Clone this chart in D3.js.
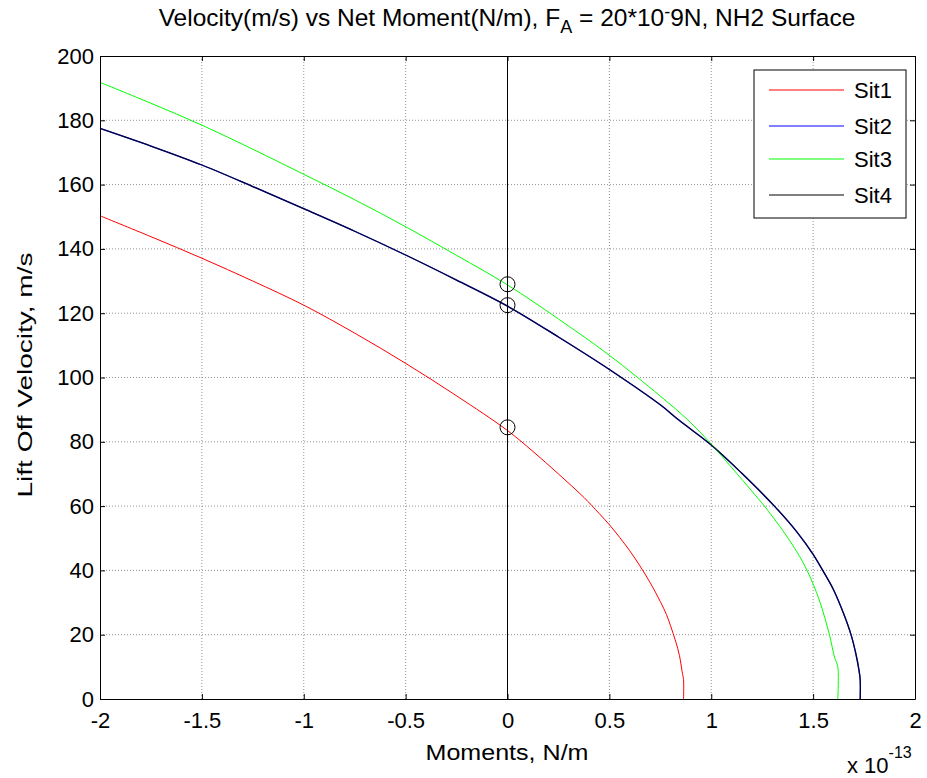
<!DOCTYPE html>
<html><head><meta charset="utf-8">
<script src="https://cdn.jsdelivr.net/npm/d3@7"></script>
<style>body{margin:0;background:#fff;} text{font-family:"Liberation Sans",Arial,sans-serif;fill:#000;}</style>
</head><body>
<svg id="chart" width="927" height="778"></svg>
<script>
// ---- data (moments in units of 1e-13 N/m, velocity m/s) ----
const xTicks = [-2, -1.5, -1, -0.5, 0, 0.5, 1, 1.5, 2];
const xTickLabels = ["-2", "-1.5", "-1", "-0.5", "0", "0.5", "1", "1.5", "2"];
const yTicks = [0, 20, 40, 60, 80, 100, 120, 140, 160, 180, 200];
const seriesNames = ["Sit1", "Sit2", "Sit3", "Sit4"];

const sit1M = [-2, -1.75, -1.5, -1.25, -1, -0.75, -0.5, -0.25, 0, 0.125, 0.25, 0.375, 0.45, 0.5, 0.55, 0.6, 0.65, 0.7, 0.75, 0.78, 0.8, 0.825, 0.844, 0.857, 0.864, 0.864];
const sit1V = [150.3, 143.8, 137.1, 130.0, 122.5, 113.8, 104.4, 94.3, 83.5, 77.0, 70.0, 62.7, 57.7, 54.2, 50.3, 46.1, 41.4, 36.2, 30.3, 26.3, 22.8, 18.0, 13.5, 8.5, 6.0, 0];

const sit2M = [-2, -1.75, -1.5, -1.25, -1, -0.75, -0.5, -0.25, 0, 0.25, 0.5, 0.75, 0.844, 1.0, 1.15, 1.31, 1.42, 1.5, 1.547, 1.6, 1.65, 1.687, 1.71, 1.725, 1.731, 1.731];
const sit2V = [177.5, 172.0, 166.1, 159.4, 152.5, 145.5, 138.1, 130.3, 122.2, 112.6, 102.5, 91.5, 86.6, 79.0, 70.2, 60.0, 52.0, 45.0, 40.0, 34.0, 26.5, 19.8, 14.0, 9.0, 6.0, 0];

const sit3M = [-2, -1.75, -1.5, -1.25, -1, -0.75, -0.5, -0.25, 0, 0.25, 0.5, 0.75, 0.885, 1.0, 1.1, 1.2, 1.261, 1.35, 1.42, 1.474, 1.53, 1.58, 1.605, 1.621, 1.621];
const sit3V = [191.8, 185.3, 178.5, 171.0, 163.2, 155.3, 146.9, 138.0, 128.8, 118.2, 106.9, 94.2, 86.8, 79.3, 72.0, 64.6, 60.0, 52.5, 45.8, 39.5, 30.8, 20.0, 13.0, 10.0, 0];

const sit4M = [-2, -1.75, -1.5, -1.25, -1, -0.75, -0.5, -0.25, 0, 0.25, 0.5, 0.75, 0.844, 1.0, 1.15, 1.31, 1.42, 1.5, 1.547, 1.6, 1.65, 1.687, 1.71, 1.725, 1.731, 1.731];
const sit4V = [177.5, 172.0, 166.1, 159.4, 152.5, 145.5, 138.1, 130.3, 122.2, 112.6, 102.5, 91.5, 86.6, 79.0, 70.2, 60.0, 52.0, 45.0, 40.0, 34.0, 26.5, 19.8, 14.0, 9.0, 6.0, 0];

const markerM = [0, 0, 0];
const markerV = [84.5, 122.5, 129.0];

// ---- layout ----
const svg = d3.select("#chart");
const L = 100, R = 915, T = 56, B = 699;
const x = d3.scaleLinear().domain([-2, 2]).range([L, R]);
const y = d3.scaleLinear().domain([0, 200]).range([B, T]);
const fs = 22;

// grid
const grid = svg.append("g");
xTicks.slice(1, -1).forEach(t => {
  grid.append("line").attr("x1", x(t)).attr("x2", x(t)).attr("y1", T).attr("y2", B)
    .attr("stroke", "#777").attr("stroke-width", 0.8).attr("stroke-dasharray", "1,2");
});
yTicks.slice(1, -1).forEach(t => {
  grid.append("line").attr("x1", L).attr("x2", R).attr("y1", y(t)).attr("y2", y(t))
    .attr("stroke", "#777").attr("stroke-width", 0.8).attr("stroke-dasharray", "1,2");
});

// axes with inward ticks
const xAxisB = d3.axisBottom(x).tickValues(xTicks).tickFormat((d, i) => xTickLabels[i]).tickSizeInner(-5).tickSizeOuter(0).tickPadding(13);
const xAxisT = d3.axisTop(x).tickValues(xTicks).tickFormat("").tickSizeInner(-5).tickSizeOuter(0);
const yAxisL = d3.axisLeft(y).tickValues(yTicks).tickSizeInner(-5).tickSizeOuter(0).tickPadding(6);
const yAxisR = d3.axisRight(y).tickValues(yTicks).tickFormat("").tickSizeInner(-5).tickSizeOuter(0);

function styleAxis(g) {
  g.selectAll("path.domain").attr("stroke", "#000").attr("stroke-width", 1);
  g.selectAll(".tick line").attr("stroke", "#000").attr("stroke-width", 1);
  g.selectAll("text").attr("font-family", "Liberation Sans, Arial, sans-serif").attr("font-size", fs).attr("fill", "#000");
}

// series lines
const line = d3.line().x(d => x(d[0])).y(d => y(d[1])).curve(d3.curveCatmullRom.alpha(0.5));
const zip = (a, b) => a.map((v, i) => [v, b[i]]);
const plot = svg.append("g");
plot.append("path").datum(zip(sit1M, sit1V)).attr("d", line).attr("fill", "none").attr("stroke", "#ff0000").attr("stroke-width", 1);
plot.append("path").datum(zip(sit2M, sit2V)).attr("d", line).attr("fill", "none").attr("stroke", "#0000ff").attr("stroke-width", 1.3);
plot.append("path").datum(zip(sit3M, sit3V)).attr("d", line).attr("fill", "none").attr("stroke", "#00ff00").attr("stroke-width", 1);
plot.append("path").datum(zip(sit4M, sit4V)).attr("d", line).attr("fill", "none").attr("stroke", "#000000").attr("stroke-opacity", 0.75).attr("stroke-width", 1.3);

// vertical zero line
plot.append("line").attr("x1", x(0)).attr("x2", x(0)).attr("y1", y(0)).attr("y2", y(200)).attr("stroke", "#000").attr("stroke-width", 1);

// markers
plot.selectAll("circle.m").data(zip(markerM, markerV)).enter().append("circle")
  .attr("cx", d => x(d[0])).attr("cy", d => y(d[1])).attr("r", 7.5)
  .attr("fill", "none").attr("stroke", "#000").attr("stroke-width", 1);

const gB = svg.append("g").attr("transform", `translate(0,${B})`).call(xAxisB); styleAxis(gB);
const gT = svg.append("g").attr("transform", `translate(0,${T})`).call(xAxisT); styleAxis(gT);
const gL = svg.append("g").attr("transform", `translate(${L},0)`).call(yAxisL); styleAxis(gL);
const gR = svg.append("g").attr("transform", `translate(${R},0)`).call(yAxisR); styleAxis(gR);

// legend
const lg = svg.append("g");
const lgX = 754, lgY = 70, lgW = 152, lgH = 148;
lg.append("rect").attr("x", lgX).attr("y", lgY).attr("width", lgW).attr("height", lgH)
  .attr("fill", "#fff").attr("stroke", "#000").attr("stroke-width", 1);
const legendColors = ["#ff0000", "#0000ff", "#00ff00", "#000000"];
const rowY = [90, 126, 159, 195];
seriesNames.forEach((n, i) => {
  lg.append("line").attr("x1", 769).attr("x2", 844).attr("y1", rowY[i]).attr("y2", rowY[i])
    .attr("stroke", legendColors[i]).attr("stroke-width", 1);
  lg.append("text").attr("x", 854).attr("y", rowY[i]).attr("dy", "0.36em").attr("font-size", fs).text(n);
});

// title
const title = svg.append("text").attr("x", 507).attr("y", 26).attr("text-anchor", "middle").attr("font-size", 24.5);
title.append("tspan").text("Velocity(m/s) vs Net Moment(N/m), F");
title.append("tspan").attr("dy", 7).attr("font-size", 18).text("A");
title.append("tspan").attr("dy", -7).text(" = 20*10");
title.append("tspan").attr("dy", -8).attr("font-size", 18).text("-");
title.append("tspan").attr("dy", 8).text("9N, NH2 Surface");

// axis labels
svg.append("text").attr("x", 507).attr("y", 760).attr("text-anchor", "middle").attr("font-size", fs)
  .attr("textLength", 163).attr("lengthAdjust", "spacingAndGlyphs").text("Moments, N/m");
svg.append("text").attr("transform", "translate(32,375) rotate(-90)").attr("text-anchor", "middle").attr("font-size", 21)
  .attr("textLength", 245).attr("lengthAdjust", "spacingAndGlyphs").text("Lift Off Velocity, m/s");

// exponent
const ex = svg.append("text").attr("x", 847).attr("y", 773).attr("font-size", fs);
ex.append("tspan").text("x 10");
ex.append("tspan").attr("dy", -15).attr("font-size", 16).text("-13");
</script>
</body></html>
